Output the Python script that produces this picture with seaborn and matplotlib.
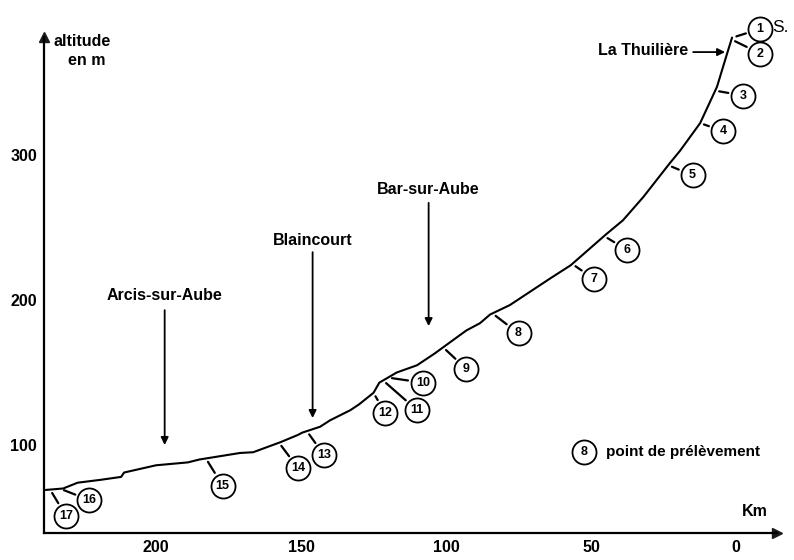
import matplotlib
matplotlib.use("Agg")
import matplotlib.pyplot as plt
import seaborn as sns
import numpy as np
import pandas as pd

# ---- data: longitudinal profile of the Aube (distance from source, altitude) ----
km = [238, 232, 227, 219, 212, 211, 200, 189, 185, 171, 166.5, 157, 151, 149.6,
      143.4, 140, 133, 130, 125, 123, 117, 110, 104, 93, 88.3, 84.8, 78, 64, 57,
      45, 39, 32, 22.8, 19.3, 12.4, 6.6, 3.1, 1.4]
alt = [69, 70, 74, 76, 78, 81, 86, 88, 90, 94.5, 95, 102, 107, 108.5,
       112.6, 117, 124, 128, 136, 143, 150, 155, 163, 179, 184, 190, 196.5, 215, 224,
       245, 255, 271, 294.5, 303, 322, 347, 370, 381]

# sampling points: id and distance on the river
sample_id = [str(i) for i in range(1, 18)]
sample_km = [1.2, 1.6, 7.2, 12.4, 23.4, 45.5, 56.5, 84, 101, 120, 121.7, 125,
             148, 157.6, 182.8, 233, 236.5]
# label circle positions (layout)
label_km = [-8.3, -8.3, -2.4, 4.5, 15, 37.6, 49, 75, 93, 108, 110, 121,
            142, 151, 177, 223, 231]
label_alt = [387, 370, 341, 316.5, 286, 234.5, 214.5, 177, 152.4, 143, 124, 122,
             93, 84, 72, 62, 51]

towns = ["Bar-sur-Aube", "Blaincourt", "Arcis-sur-Aube"]
town_km = [106, 146, 197]

x_ticks = [200, 150, 100, 50, 0]
y_ticks = [100, 200, 300]

sns.set_theme(style="white")
plt.rcParams['font.family'] = ['Liberation Sans', 'DejaVu Sans']
plt.rcParams['font.weight'] = 'bold'
plt.rcParams['text.color'] = 'black'

fig = plt.figure(figsize=(7.94, 5.6), dpi=100)
ax = fig.add_axes([44 / 794, 27 / 560, 733 / 794, 496 / 560])

df = pd.DataFrame({"km": km, "alt": alt})
sns.lineplot(data=df, x="km", y="alt", ax=ax, color="black", lw=1.5,
             estimator=None, sort=False, clip_on=False)
ax.set_xlim(238.6, -14.1)
ax.set_ylim(39.3, 381.4)

for s in ["top", "right"]:
    ax.spines[s].set_visible(False)
for s in ["left", "bottom"]:
    ax.spines[s].set_color("black")
    ax.spines[s].set_linewidth(1.6)
ax.plot(1, 0, ">k", ms=7, transform=ax.transAxes, clip_on=False)
ax.plot(0, 1, "^k", ms=7, transform=ax.transAxes, clip_on=False)

ax.set_xticks(x_ticks)
ax.set_yticks(y_ticks)
ax.tick_params(axis="x", direction="in", length=4, width=1.3, pad=5,
               labelsize=11.5, colors="black")
ax.tick_params(axis="y", direction="out", length=4, width=1.3, pad=1,
               labelsize=11.5, colors="black")
for lab in ax.get_xticklabels() + ax.get_yticklabels():
    lab.set_fontweight("bold")
ax.set_xlabel("")
ax.set_ylabel("")
ax.grid(False)

# leader lines from curve to circles
km_inc = np.array(km[::-1])
alt_inc = np.array(alt[::-1])
sample_alt = np.interp(sample_km, km_inc, alt_inc)
inv = ax.transData.inverted()
for sk, sa, lk, la in zip(sample_km, sample_alt, label_km, label_alt):
    p = ax.transData.transform((sk, sa))
    c = ax.transData.transform((lk, la))
    d = c - p
    u = d / np.hypot(*d)
    a = inv.transform(p + 4 * u)
    b = inv.transform(c - 15 * u)
    ax.plot([a[0], b[0]], [a[1], b[1]], color="black", lw=1.6, clip_on=False)

sns.scatterplot(x=label_km, y=label_alt, s=300, facecolor="white",
                edgecolor="black", linewidth=1.3, ax=ax, zorder=3, clip_on=False)
for sid, lk, la in zip(sample_id, label_km, label_alt):
    ax.text(lk, la, sid, ha="center", va="center", fontsize=9,
            fontweight="bold", zorder=4)
ax.text(-12.5, 388, "S.", ha="left", va="center", fontsize=12.5, fontweight="normal")

# legend
ax.scatter([52.4], [95.2], s=300, facecolor="white", edgecolor="black",
           linewidth=1.3, zorder=3)
ax.text(52.4, 95.2, "8", ha="center", va="center", fontsize=9, fontweight="bold", zorder=4)
ax.text(44.8, 95.2, "point de prélèvement", ha="left", va="center", fontsize=11,
        fontweight="bold")

# towns
town_label_alt = [276, 241, 203]
arrow_top = [267, 233, 193]
arrow_bot = [182, 118.6, 100]
for t, tk, tl, at, ab in zip(towns, town_km, town_label_alt, arrow_top, arrow_bot):
    ax.text(tk, tl, t, ha="center", va="center", fontsize=11.5, fontweight="bold")
    ax.annotate("", xy=(tk, ab), xytext=(tk, at),
                arrowprops=dict(arrowstyle="-|>", color="black", lw=1.3,
                                mutation_scale=11, shrinkA=0, shrinkB=0))

ax.text(32, 372.4, "La Thuilière", ha="center", va="center", fontsize=11.5,
        fontweight="bold")
ax.annotate("", xy=(3.8, 371), xytext=(14.8, 371),
            arrowprops=dict(arrowstyle="-|>", color="black", lw=1.3,
                            mutation_scale=11, shrinkA=0, shrinkB=0))

ax.text(225.5, 378, "altitude", ha="center", va="center", fontsize=11.5, fontweight="bold")
ax.text(224, 365.5, "en m", ha="center", va="center", fontsize=11.5, fontweight="bold")
ax.text(-6.6, 53.8, "Km", ha="center", va="center", fontsize=11.5, fontweight="bold")

fig.savefig("out.png", dpi=100)
